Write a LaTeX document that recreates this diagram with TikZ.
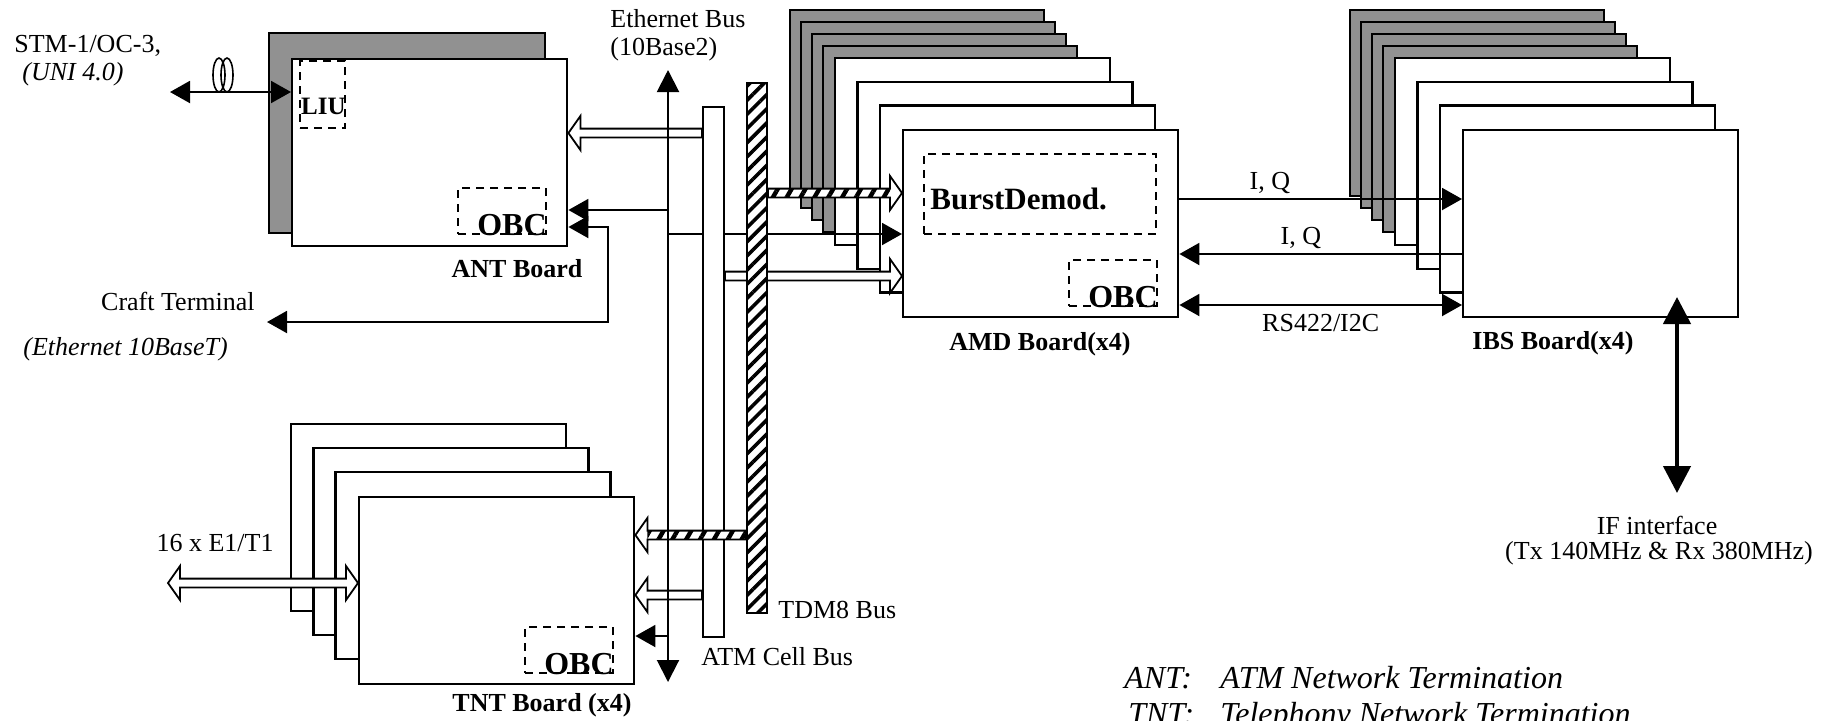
\documentclass[tikz,border=0pt]{standalone}
\usepackage{fontspec}
\setmainfont{Liberation Serif}
\usetikzlibrary{arrows.meta,calc,patterns.meta}
\definecolor{boardgray}{RGB}{145,145,145}

\begin{document}
\begin{tikzpicture}[x=0.5pt,y=-0.5pt,
  every node/.style={inner sep=0pt,font=\fontsize{13}{15}\selectfont},
  note/.style={font=\fontsize{13}{15}\selectfont\itshape},
  boardname/.style={font=\fontsize{13}{15}\selectfont\bfseries},
  unitname/.style={font=\fontsize{16}{18}\selectfont\bfseries,anchor=base east},
  legend/.style={font=\fontsize{16}{18}\selectfont\itshape,anchor=base west},
  board/.style={draw,line width=1.2pt,fill=white,anchor=north west,
    minimum width=137.5pt,minimum height=93.5pt},
  backboard/.style={draw,line width=1.2pt,fill=#1},
  backboard/.default=white,
  dashbox/.style={draw,line width=1pt,dash pattern=on 4pt off 3pt,anchor=north west},
  obcbox/.style={dashbox,minimum width=44pt,minimum height=23pt},
  bus/.style={draw,line width=1pt,fill=white,anchor=north west,minimum height=265pt},
  hatch/.style={pattern={Lines[angle=45,distance=5pt,line width=1.8pt]}},
  conn/.style={line width=1pt,>={Triangle[length=10pt,width=11pt]}},
  ethline/.style={line width=1pt,{Triangle[length=11pt,width=11pt]}-{Triangle[length=11pt,width=11pt]}},
  ifline/.style={line width=2.2pt,{Triangle[length=13.5pt,width=13.5pt]}-{Triangle[length=13.5pt,width=13.5pt]}},
  fat/.style={draw,fill=white,line width=0.9pt,to path={
    let \p1=(\tikztostart),\p2=(\tikztotarget),
        \p3=($(\tikztotarget)!6pt!(\tikztostart)$) in
    (\x1,\y1+2.2pt) -- (\x3,\y1+2.2pt) -- (\x3,\y1+8.5pt) -- (\x2,\y1)
    -- (\x3,\y1-8.5pt) -- (\x3,\y1-2.2pt) -- (\x1,\y1-2.2pt) -- cycle}},
  fatboth/.style={draw,fill=white,line width=0.9pt,to path={
    let \p1=(\tikztostart),\p2=(\tikztotarget),
        \p3=($(\tikztotarget)!6pt!(\tikztostart)$),
        \p4=($(\tikztostart)!6pt!(\tikztotarget)$) in
    (\x1,\y1) -- (\x4,\y1+8.5pt) -- (\x4,\y1+2.2pt) -- (\x3,\y1+2.2pt)
    -- (\x3,\y1+8.5pt) -- (\x2,\y1) -- (\x3,\y1-8.5pt) -- (\x3,\y1-2.2pt)
    -- (\x4,\y1-2.2pt) -- (\x4,\y1-8.5pt) -- cycle}},
  hatchshaft/.style={pattern={Lines[angle=60,distance=6pt,line width=2.2pt]},to path={
    let \p1=(\tikztostart),\p3=($(\tikztotarget)!6pt!(\tikztostart)$) in
    (\x1,\y1+2.2pt) rectangle (\x3,\y1-2.2pt)}}]

\useasboundingbox (0,0) rectangle (1835,720);

% cartes empilees
\draw[backboard=boardgray] (269,33) rectangle (545,233);
\foreach \dx in {0,560}{
  \foreach \i in {0,...,3}
    \draw[backboard=boardgray] (790+\dx+11*\i,10+12*\i) rectangle ++(254,186);
  \foreach \i in {0,1,2}
    \draw[backboard] (835+\dx+22.5*\i,58+23.7*\i) rectangle ++(275,187);
}
\foreach \i in {0,1,2}
  \draw[backboard] (291+22.3*\i,424+24*\i) rectangle ++(275,187);

\node[board] (antfront) at (291,58) {};
\node[board] (amdfront) at (902,129) {};
\node[board] (ibsfront) at (1462,129) {};
\node[board] (tntfront) at (358,496) {};

\node[dashbox,minimum width=22.5pt,minimum height=33.5pt] (liu) at (299,60) {};
\node[unitname,font=\fontsize{12.5}{14}\selectfont\bfseries] (liutext) at ([yshift=7.5pt]liu.south east) {LIU};
\node[obcbox] (antobc) at (457,187) {};
\node[unitname] (antobctext) at (antobc.south east) {OBC};
\node[dashbox,minimum width=116pt,minimum height=40pt] (burst) at (923,153) {};
\node[unitname,anchor=base west,font=\fontsize{15.5}{18}\selectfont\bfseries] (bursttext)
  at ([xshift=3.5pt,yshift=13pt]burst.south west) {BurstDemod.};
\node[obcbox] (amdobc) at (1068,259) {};
\node[unitname] (amdobctext) at (amdobc.south east) {OBC};
\node[obcbox] (tntobc) at (524,626) {};
\node[unitname] (tntobctext) at (tntobc.south east) {OBC};

\node[boardname] (antname) at (517,269) {ANT Board};
\node[boardname] (amdname) at (1040,344) {AMD Board(x4)};
\node[boardname] (ibsname) at (1553,343) {IBS Board(x4)};
\node[boardname] (tntname) at (542,705) {TNT Board (x4)};

% bus
\coordinate (ethtop) at (668,70);
\coordinate (ethbot) at (668,682);
\draw[conn,->] (ethtop |- 0,234) -- (amdfront.west |- 0,234);
\node[bus,minimum width=10.5pt] (atmbus) at (702,106) {};
\draw[fat] (atmbus.east |- 0,276) to (amdfront.west |- 0,276);
\node[bus,minimum width=10pt,postaction={hatch}] (tdmbus) at (746,82) {};
\draw[fat] (tdmbus.east |- 0,193) to (amdfront.west |- 0,193);
\path[hatchshaft] (tdmbus.east |- 0,193) to (amdfront.west |- 0,193);

\draw[fat] (atmbus.west |- 0,133) to (antfront.east |- 0,133);
\draw[fat] (tdmbus.west |- 0,535) to (tntfront.east |- 0,535);
\path[hatchshaft] (tdmbus.west |- 0,535) to (tntfront.east |- 0,535);
\draw[fat] (atmbus.west |- 0,595) to (tntfront.east |- 0,595);

\coordinate (craftbend) at (608,322);
\coordinate (crafttip) at (267,322);
\draw[conn,->] (ethtop |- 0,210) -- (antfront.east |- 0,210);
\draw[conn,<->] (antfront.east |- 0,227) -| (craftbend) -- (crafttip);
\draw[conn,->] (ethtop |- 0,636) -- (tntfront.east |- 0,636);
\draw[ethline] (ethtop) -- (ethbot);

\node[anchor=base west] (ethname) at (610,27) {Ethernet Bus};
\node[anchor=base west] (ethspeed) at (610,55) {(10Base2)};
\node[anchor=west] (tdmname) at (778,610) {TDM8 Bus};
\node[anchor=west] (atmname) at (701,657) {ATM Cell Bus};

% liaisons AMD - IBS
\draw[conn,->] (amdfront.east |- 0,199) -- node[pos=0.32,above=2pt] (iqout) {I, Q} (ibsfront.west |- 0,199);
\draw[conn,<-] (amdfront.east |- 0,254) -- node[pos=0.43,above=2pt] (iqin) {I, Q} (ibsfront.west |- 0,254);
\draw[conn,<->] (amdfront.east |- 0,305) -- node[pos=0.5,below=4pt] (rs) {RS422/I2C} (ibsfront.west |- 0,305);

\coordinate (iftop) at (1677,297);
\coordinate (ifbot) at (1677,493);
\draw[ifline] (iftop) -- (ifbot);
\node (ifname) at (1657,525) {IF interface};
\node (ifband) at (1659,553) {(Tx 140MHz \& Rx 380MHz)};

% interfaces externes
\coordinate (stmend) at (170,92);
\draw[conn,<->] (stmend) -- (antfront.west |- stmend);
\draw[line width=0.8pt] (219,75) ellipse [x radius=3pt,y radius=8.5pt]
  (227,75) ellipse [x radius=3pt,y radius=8.5pt];
\node[anchor=base west] (stm) at (14,52) {STM-1/OC-3,};
\node[note,anchor=base west] (uni) at (22,80) {(UNI 4.0)};

\node[anchor=base east] (craft) at (255,310) {Craft Terminal};
\node[note,anchor=base west] (crafteth) at (23,355) {(Ethernet 10BaseT)};

\coordinate (e1end) at (168,583);
\draw[fatboth] (e1end) to (tntfront.west |- e1end);
\node (e1name) at (215,543) {16 x E1/T1};

\node[legend] (antkey) at (1124,688) {ANT:};
\node[legend] (antkeytext) at (1220,688) {ATM Network Termination};
\node[legend] (tntkey) at (1128,724) {TNT:};
\node[legend] (tntkeytext) at (1220,724) {Telephony Network Termination};
\end{tikzpicture}
\end{document}
